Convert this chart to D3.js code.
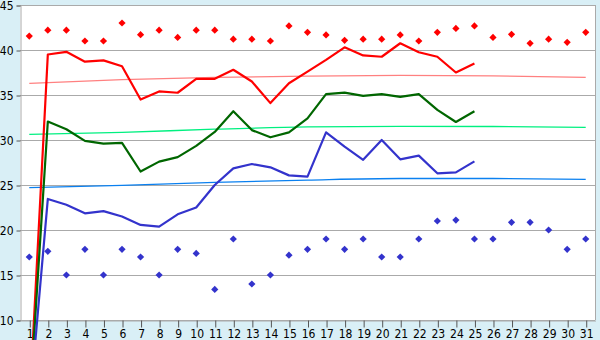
<!DOCTYPE html>
<html>
<head>
<meta charset="utf-8">
<script src="https://cdn.jsdelivr.net/npm/d3@7"></script>
<style>
  html, body { margin: 0; padding: 0; background: #d9eff6; }
  svg { display: block; }
  .tick text { font-family: "DejaVu Sans Condensed", "DejaVu Sans", sans-serif; font-size: 11px; fill: #000; }
</style>
</head>
<body>
<svg id="svg" width="600" height="340"></svg>
<script>
// days of the month
const days = d3.range(1, 32);
const yTicks = [10, 15, 20, 25, 30, 35, 40, 45];

// series lines (days 1..25)
const redLine = [0, 39.5, 39.8, 38.7, 38.85, 38.2, 34.5, 35.4, 35.25, 36.8, 36.8, 37.8, 36.5, 34.1, 36.3, 37.6, 38.9, 40.3, 39.4, 39.25, 40.75, 39.75, 39.25, 37.5, 38.5];
const greenLine = [0, 32.05, 31.2, 29.9, 29.6, 29.67, 26.5, 27.6, 28.1, 29.35, 30.9, 33.2, 31.1, 30.3, 30.85, 32.4, 35.1, 35.26, 34.9, 35.1, 34.8, 35.1, 33.35, 32.0, 33.2];
const blueLine = [0, 23.45, 22.8, 21.85, 22.1, 21.5, 20.56, 20.37, 21.74, 22.5, 25.0, 26.85, 27.33, 26.96, 26.07, 25.93, 30.85, 29.26, 27.8, 30.0, 27.85, 28.26, 26.3, 26.4, 27.63];

// scatter points (days 1..31)
const redPoints = [41.55, 42.2, 42.2, 41.0, 41.0, 43.0, 41.7, 42.2, 41.4, 42.2, 42.2, 41.2, 41.2, 41.0, 42.67, 41.96, 41.67, 41.07, 41.2, 41.2, 41.67, 41.0, 41.96, 42.4, 42.67, 41.4, 41.74, 40.74, 41.2, 40.85, 41.96];
const bluePoints = [17.0, 17.63, 15.0, 17.85, 15.0, 17.85, 17.0, 15.0, 17.85, 17.4, 13.4, 19.0, 14.0, 15.0, 17.2, 17.85, 19.0, 17.85, 19.0, 17.0, 17.0, 19.0, 21.0, 21.1, 19.0, 19.0, 20.85, 20.85, 20.0, 17.85, 19.0];

// trend curves, read at a few days
const trendDays = [1, 6, 11, 16, 21, 26, 31];
const redTrend = [36.3, 36.7, 36.95, 37.1, 37.17, 37.12, 36.96];
const greenTrend = [30.62, 30.85, 31.2, 31.45, 31.52, 31.5, 31.4];
const blueTrend = [24.7, 24.95, 25.3, 25.55, 25.72, 25.72, 25.63];

let svg = d3.select('#svg');
let padL = 20, padR = 595, padT = 5, padB = 320;

let x = d3.scaleLinear().domain([0.5, 31.5]).range([padL, padR]);
let y = d3.scaleLinear().domain([10, 45]).range([padB, padT]);

svg.append('rect')
  .attr('x', padL).attr('y', padT)
  .attr('width', padR - padL).attr('height', padB - padT)
  .attr('fill', '#fff');

// horizontal grid
svg.append('g')
  .selectAll('line')
  .data(yTicks)
  .enter()
  .append('line')
    .attr('x1', padL).attr('x2', padR)
    .attr('y1', d => y(d) + 0.5).attr('y2', d => y(d) + 0.5)
    .attr('stroke', '#aaa')
    .attr('shape-rendering', 'crispEdges');

// right border
svg.append('line')
  .attr('x1', padR + 0.5).attr('x2', padR + 0.5)
  .attr('y1', padT).attr('y2', padB)
  .attr('stroke', '#aaa')
  .attr('shape-rendering', 'crispEdges');

let yAxis = svg.append('g')
  .attr('transform', 'translate(' + (padL + 0.5) + ',0.5)')
  .call(d3.axisLeft(y).tickValues(yTicks).tickSize(4).tickPadding(3));
yAxis.select('.domain').attr('stroke', '#aaa');
yAxis.selectAll('.tick line').attr('stroke', '#555');
yAxis.selectAll('.tick text').style('font-size', '12px').attr('dy', '0.36em');

let xAxis = svg.append('g')
  .attr('transform', 'translate(0.5,' + (padB + 0.5) + ')')
  .call(d3.axisBottom(x).tickValues(days).tickSize(7).tickPadding(2).tickSizeOuter(0));
xAxis.select('.domain').attr('stroke', '#aaa');
xAxis.selectAll('.tick line').attr('stroke', '#555');
xAxis.selectAll('.tick text').style('font-size', '12px');

// trend lines
let trendLine = d3.line()
  .x((d, i) => x(trendDays[i]))
  .y(d => y(d))
  .curve(d3.curveMonotoneX);

[[redTrend, '#ff8080'], [greenTrend, '#00f080'], [blueTrend, '#0a80f0']].forEach(([vals, color]) => {
  svg.append('path')
    .datum(vals)
    .attr('fill', 'none')
    .attr('stroke', color)
    .attr('stroke-width', 1.3)
    .attr('d', trendLine);
});

// main lines
let line = d3.line()
  .x((d, i) => x(days[i]))
  .y(d => y(d));

[[redLine, '#ff0000'], [greenLine, '#006600'], [blueLine, '#3333cc']].forEach(([vals, color]) => {
  svg.append('path')
    .datum(vals)
    .attr('fill', 'none')
    .attr('stroke', color)
    .attr('stroke-width', 2.2)
    .attr('stroke-linejoin', 'round')
    .attr('d', line);
});

// diamond markers
function diamond(cx, cy) {
  let r = 3.6;
  return 'M' + cx + ',' + (cy - r) + 'L' + (cx + r) + ',' + cy + 'L' + cx + ',' + (cy + r) + 'L' + (cx - r) + ',' + cy + 'Z';
}

[[redPoints, '#ff0000'], [bluePoints, '#3333cc']].forEach(([vals, color]) => {
  svg.append('g')
    .selectAll('path')
    .data(vals)
    .enter()
    .append('path')
      .attr('d', (d, i) => diamond(x(days[i]), y(d)))
      .attr('fill', color);
});
</script>
</body>
</html>
